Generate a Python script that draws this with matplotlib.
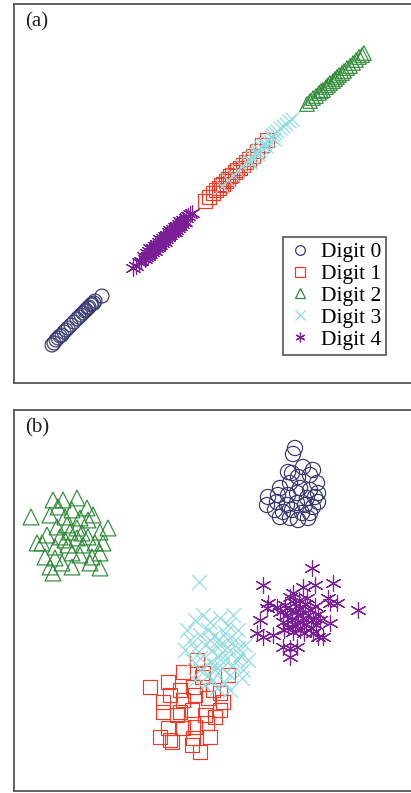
import matplotlib
matplotlib.use("Agg")
import matplotlib.pyplot as plt
from matplotlib.lines import Line2D

# ---------------- data (embedding coordinates) ----------------
labels = ["Digit 0", "Digit 1", "Digit 2", "Digit 3", "Digit 4"]

# panel (a)
a0_x = [52, 54, 56, 58, 60, 62, 64, 66, 68, 71, 74, 77, 79, 81, 83, 85, 86, 88, 89, 91, 92, 94, 95, 102]
a0_y = [345, 343, 340, 338, 336, 335, 332, 330, 328, 325, 322, 319, 317, 315, 313, 311, 310, 308, 307, 305, 304, 303, 301, 296]

a1_x = [205, 209, 213, 216, 219, 221, 223, 226, 228, 230, 232, 235, 237, 240, 243, 246, 249, 253, 257, 262, 267]
a1_y = [201, 197, 193, 190, 188, 185, 184, 181, 179, 176, 175, 172, 170, 168, 165, 162, 159, 156, 151, 145, 140]

a2_x = [307, 310, 313, 316, 319, 321, 323, 326, 328, 330, 333, 335, 337, 339, 342, 344, 347, 350, 353, 356, 359, 362, 364]
a2_y = [104, 101, 98, 96, 93, 91, 90, 87, 85, 83, 81, 79, 77, 75, 73, 71, 68, 66, 63, 60, 57, 55, 53]

a3_x = [222, 228, 233, 238, 242, 246, 249, 251, 253, 255, 257, 259, 261, 263, 265, 267, 269, 271, 273, 275,
        277, 280, 283, 286, 289, 292, 250, 258, 266, 274]
a3_y = [186, 180, 175, 171, 166, 162, 160, 157, 156, 153, 151, 150, 147, 145, 143, 141, 140, 137, 135, 133,
        131, 128, 126, 124, 121, 119, 162, 154, 146, 139]

a4_x = [133, 136, 139, 141, 144, 146, 147, 148, 149, 150, 151, 152, 153, 154, 155, 156, 157, 158, 159, 160,
        161, 162, 163, 164, 165, 166, 167, 168, 169, 170, 171, 172, 173, 174, 175, 176, 177, 178, 179, 180,
        181, 182, 183, 184, 186, 188, 190, 192, 150, 155, 160, 165, 170, 175, 180, 145, 185]
a4_y = [268, 266, 262, 261, 256, 257, 253, 256, 251, 254, 249, 252, 248, 250, 246, 248, 244, 247, 242, 245,
        240, 243, 238, 241, 236, 239, 235, 237, 232, 235, 231, 233, 229, 232, 227, 230, 226, 228, 224, 226,
        222, 224, 220, 222, 218, 216, 214, 213, 248, 251, 239, 242, 230, 232, 221, 259, 222]

# panel (b)
b0_x = [295, 293, 288, 298, 310, 317, 280, 290, 300, 310, 268, 278, 288, 297, 307, 315, 267, 277, 287, 297,
        305, 313, 275, 283, 292, 302, 310, 280, 290, 298, 308, 318, 318, 292, 303, 313]
b0_y = [448, 454, 472, 477, 475, 483, 488, 483, 488, 490, 497, 495, 495, 493, 498, 497, 505, 502, 505, 503,
        505, 507, 510, 512, 510, 513, 513, 517, 518, 520, 518, 493, 502, 473, 467, 470]

b1_x = [150, 168, 183, 197, 203, 228, 163, 170, 183, 195, 208, 220, 223, 163, 180, 192, 205, 220, 168, 183,
        195, 207, 160, 170, 193, 210, 192, 200, 177, 215, 180, 193, 202, 213, 172]
b1_y = [687, 682, 672, 660, 673, 675, 702, 695, 700, 695, 698, 693, 702, 712, 712, 710, 715, 710, 728, 728,
        727, 723, 737, 740, 738, 737, 745, 752, 715, 717, 690, 687, 677, 690, 742]

b2_x = [31, 53, 63, 77, 58, 72, 87, 93, 50, 65, 80, 88, 108, 57, 67, 77, 100, 42, 55, 68, 83, 95, 103,
        45, 55, 72, 80, 92, 100, 50, 62, 72, 90, 100, 70, 82, 60, 47, 37, 65, 77, 88, 53]
b2_y = [517, 500, 500, 498, 507, 510, 508, 515, 515, 517, 518, 520, 528, 527, 525, 528, 532, 543, 547, 545,
        545, 543, 543, 557, 558, 553, 555, 557, 553, 567, 563, 567, 563, 568, 532, 533, 537, 535, 543, 540,
        538, 537, 573]

b3_x = [199, 203, 233, 187, 243, 242, 217, 195, 210, 220, 228, 238, 190, 200, 208, 215, 225, 235, 245, 185,
        195, 205, 212, 220, 230, 240, 248, 192, 200, 210, 218, 225, 233, 200, 208, 215, 222, 230, 237, 195,
        205, 212, 225, 230, 218, 228, 210, 222, 215, 238]
b3_y = [582, 615, 615, 630, 670, 678, 688, 620, 622, 618, 625, 630, 640, 635, 630, 635, 633, 640, 645, 650,
        648, 645, 650, 645, 650, 655, 660, 660, 658, 662, 657, 660, 665, 670, 675, 670, 668, 675, 660, 680,
        685, 680, 683, 690, 640, 640, 640, 652, 665, 648]

b4_x = [263, 312, 315, 333, 303, 293, 358, 260, 257, 268, 277, 290, 297, 283, 263, 273, 330, 323, 313, 337,
        328, 290, 267, 330, 318, 290,
        285, 290, 295, 300, 305, 310, 315, 287, 292, 298, 303, 308, 313, 318, 283, 288, 295, 300, 306, 311,
        316, 296, 302, 299, 307, 284, 293, 304, 320, 280]
b4_y = [585, 568, 585, 583, 587, 593, 610, 620, 633, 603, 607, 657, 647, 647, 637, 635, 623, 637, 633, 603,
        598, 597, 608, 603, 637, 648,
        605, 610, 603, 608, 604, 610, 606, 615, 620, 615, 618, 615, 620, 614, 622, 627, 625, 630, 624, 628,
        625, 612, 622, 600, 598, 630, 632, 633, 620, 612]

# ---------------- styles ----------------
colors = ["#383870", "#f03a28", "#2f8a38", "#8fdbe0", "#7a1e96"]
markers = ["o", "s", "^", "x", (6, 2, 0)]
sizes_a = [100, 100, 110, 100, 120]
sizes_b = [120, 110, 130, 110, 130]

panels = [
    ("(a)", [(a0_x, a0_y), (a1_x, a1_y), (a2_x, a2_y), (a3_x, a3_y), (a4_x, a4_y)], (383, 4), sizes_a),
    ("(b)", [(b0_x, b0_y), (b1_x, b1_y), (b2_x, b2_y), (b3_x, b3_y), (b4_x, b4_y)], (791, 410), sizes_b),
]

W, H = 411, 793
fig = plt.figure(figsize=(W / 100, H / 100), dpi=100)
serif = ["Liberation Serif", "DejaVu Serif"]

for tag, series, (ybot, ytop), sizes in panels:
    left = 13.5
    ax = fig.add_axes([left / W, (H - ybot) / H, 402 / W, (ybot - ytop) / H])
    ax.set_xlim(left, left + 402)
    ax.set_ylim(ybot, ytop)
    for (xs, ys), c, m, s in zip(series, colors, markers, sizes):
        if m == "x" or isinstance(m, tuple):
            ax.scatter(xs, ys, s=s, marker=m, color=c, linewidths=0.85)
        else:
            ax.scatter(xs, ys, s=s, marker=m, facecolors="none", edgecolors=c, linewidths=0.85)
    ax.set_xticks([])
    ax.set_yticks([])
    for sp in ax.spines.values():
        sp.set_color("#555555")
        sp.set_linewidth(1.3)
    ax.text(25, ytop + 8, tag, family=serif, fontsize=15, va="top", ha="left", color="#222222")

    if tag == "(a)":
        handles = []
        for c, m, lab in zip(colors, markers, labels):
            if m == "x" or isinstance(m, tuple):
                h = Line2D([], [], ls="none", marker=m, color=c, markersize=7, markeredgewidth=0.9)
            else:
                h = Line2D([], [], ls="none", marker=m, markerfacecolor="none", markeredgecolor=c,
                           markersize=7, markeredgewidth=0.9)
            handles.append(h)
        leg = ax.legend(handles, labels, loc="upper left",
                        bbox_to_anchor=((283 - left) / 402, 1 - (237 - ytop) / (ybot - ytop)),
                        borderaxespad=0, prop={"family": serif, "size": 15.5},
                        labelspacing=0.08, borderpad=0.25, handletextpad=0.4, handlelength=1.1,
                        fancybox=False, framealpha=1)
        leg.get_frame().set_edgecolor("#555555")
        leg.get_frame().set_linewidth(1.2)

fig.savefig("out.png", dpi=100)
